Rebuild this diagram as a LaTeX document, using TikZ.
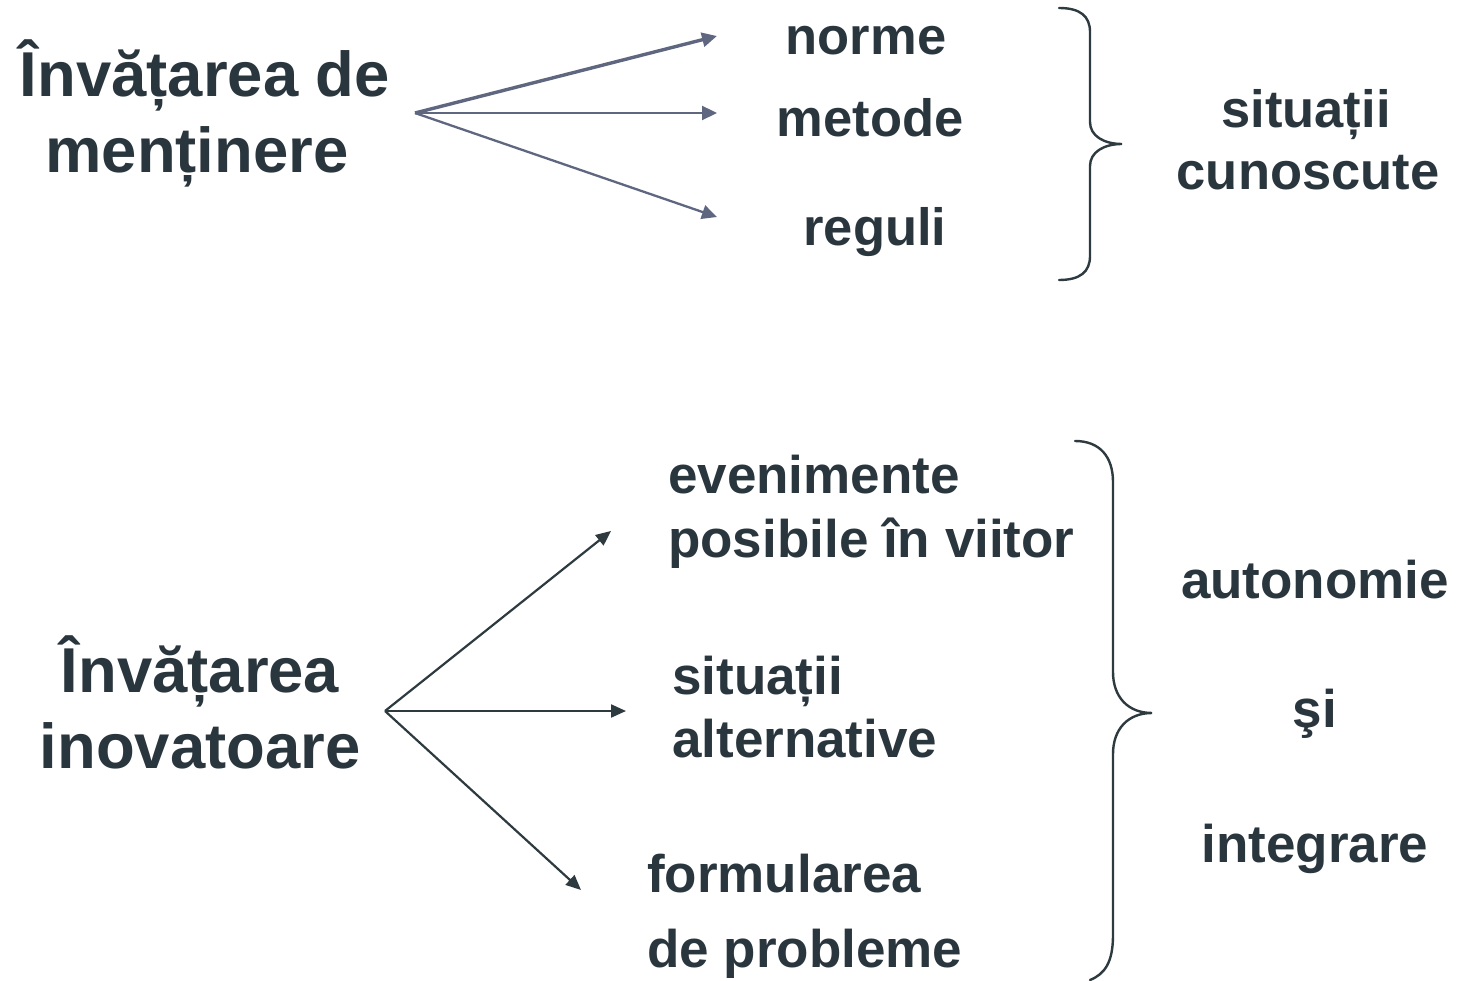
\documentclass[tikz,border=0pt]{standalone}
\usepackage{fontspec}
\setmainfont{Liberation Sans}
\usetikzlibrary{arrows.meta}
\definecolor{txt}{RGB}{42,54,61}
\definecolor{toparr}{RGB}{95,102,128}
\definecolor{dark}{RGB}{45,58,64}
\tikzset{
  big/.style={inner sep=0pt, text=txt, font=\bfseries\fontsize{63.4}{75}\selectfont},
  mid/.style={inner sep=0pt, text=txt, font=\bfseries\fontsize{52.5}{62}\selectfont},
  midb/.style={inner sep=0pt, text=txt, font=\bfseries\fontsize{53}{62}\selectfont},
  tarrow/.style={draw=toparr, line width=2.3pt, -{Triangle[length=15pt,width=14pt]}},
  barrow/.style={draw=dark, line width=2.2pt, -{Triangle[length=15pt,width=13pt]}},
  bracestyle/.style={draw=dark, line width=2.4pt, line cap=round}
}
\begin{document}
\begin{tikzpicture}[x=1pt,y=-1pt]
\useasboundingbox (0,0) rectangle (1467,981);
% ---------- top group ----------
\node[big, anchor=base] (h1a) at (205,97) {Învățarea de};
\node[big, anchor=base] (h1b) at (197,173) {menținere};
\coordinate (o1) at (415,113);
\coordinate (t1) at (717,36);
\coordinate (t2) at (717,113);
\coordinate (t3) at (717,217);
\draw[tarrow, line width=3.4pt] (o1) -- (t1);
\draw[tarrow] (o1) -- (t2);
\draw[tarrow] (o1) -- (t3);
\node[mid, anchor=base] (n1) at (866,55) {norme};
\node[mid, anchor=base] (n2) at (870,137) {metode};
\node[mid, anchor=base] (n3) at (875,246) {reguli};
\draw[bracestyle] (1059,8) .. controls (1080,8) and (1090,16) .. (1090,32)
  -- (1090,122) .. controls (1090,136) and (1104,144) .. (1122,144)
  .. controls (1104,144) and (1090,152) .. (1090,166)
  -- (1090,256) .. controls (1090,272) and (1080,280) .. (1059,280);
\node[mid, anchor=base] (s1) at (1306,128) {situații};
\node[mid, anchor=base] (s2) at (1308,190) {cunoscute};
% ---------- bottom group ----------
\node[big, anchor=base] (h2a) at (200,692) {Învățarea};
\node[big, anchor=base] (h2b) at (200,768) {inovatoare};
\coordinate (o2) at (385,711);
\coordinate (u1) at (611,531);
\coordinate (u2) at (626,711);
\coordinate (u3) at (581,890);
\draw[barrow] (o2) -- (u1);
\draw[barrow] (o2) -- (u2);
\draw[barrow] (o2) -- (u3);
\node[midb, anchor=base west] (e1) at (668,493) {evenimente};
\node[midb, anchor=base west] (e2) at (668,557) {posibile în viitor};
\node[midb, anchor=base west] (a1) at (672,694) {situații};
\node[midb, anchor=base west] (a2) at (672,757) {alternative};
\node[midb, anchor=base west] (f1) at (647,892) {formularea};
\node[midb, anchor=base west] (f2) at (647,967) {de probleme};
\draw[bracestyle] (1075,441) .. controls (1100,441) and (1113,457) .. (1113,482)
  -- (1113,672) .. controls (1113,697) and (1128,713) .. (1152,713)
  .. controls (1128,713) and (1113,729) .. (1113,754)
  -- (1113,935) .. controls (1113,962) and (1105,974) .. (1090,980);
\node[midb, anchor=base] (r1) at (1315,598) {autonomie};
\node[midb, anchor=base] (r2) at (1315,727) {şi};
\node[midb, anchor=base] (r3) at (1315,862) {integrare};
\end{tikzpicture}
\end{document}
